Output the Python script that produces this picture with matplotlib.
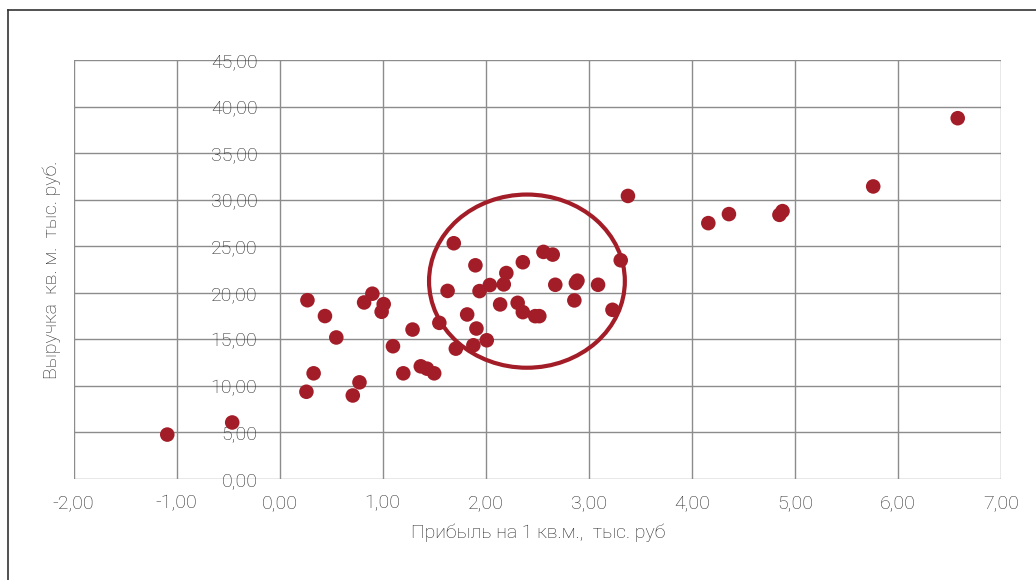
import matplotlib
matplotlib.use("Agg")
import matplotlib.pyplot as plt
from matplotlib.patches import Ellipse
from matplotlib.lines import Line2D
from matplotlib.ticker import FuncFormatter

plt.rcParams["font.family"] = ["Roboto", "DejaVu Sans"]
plt.rcParams["font.weight"] = "light"

# ── Data ──────────────────────────────────────────────────────────────────────
profit = [-1.09, -0.46, 0.27, 0.44, 0.55, 0.33, 0.26, 0.71, 0.775, 0.82,
          0.90, 1.01, 0.99, 1.10, 1.29, 1.20, 1.37, 1.43, 1.50, 1.55,
          1.63, 1.71, 1.82, 1.91, 1.88, 2.01, 1.94, 2.04, 1.69, 1.90,
          2.175, 2.20, 2.36, 2.56, 2.65, 2.14, 2.31, 2.36, 2.48, 2.52,
          2.675, 2.875, 2.89, 2.86, 3.09, 3.31, 3.23, 3.38, 4.16, 4.36,
          4.85, 4.88, 5.76, 6.58]
revenue = [4.77, 6.07, 19.2, 17.5, 15.2, 11.35, 9.37, 8.97, 10.38, 18.96,
           19.9, 18.78, 17.96, 14.26, 16.05, 11.35, 12.1, 11.85, 11.35, 16.77,
           20.2, 14.0, 17.67, 16.16, 14.36, 14.9, 20.18, 20.83, 25.32, 22.95,
           20.9, 22.12, 23.28, 24.39, 24.1, 18.75, 18.92, 17.92, 17.49, 17.49,
           20.86, 21.05, 21.3, 19.18, 20.86, 23.49, 18.17, 30.4, 27.48, 28.45,
           28.37, 28.77, 31.42, 38.75]

# highlighted cluster (centre, width, height in data units)
circle_center = (2.40, 21.25)
circle_w, circle_h = 1.90, 18.6

x_ticks = [-2, -1, 0, 1, 2, 3, 4, 5, 6, 7]
y_ticks = [0, 5, 10, 15, 20, 25, 30, 35, 40, 45]

RED = "#a21d27"
GRID = "#8c8c8c"
TXT = "#2a2a2a"

fig = plt.figure(figsize=(10.36, 5.80), dpi=100)
ax = fig.add_axes([73.5 / 1036, 1 - 479 / 580, 927.5 / 1036, 419 / 580])

ax.scatter(profit, revenue, s=110, color=RED, edgecolors="none", zorder=3)
ax.add_patch(Ellipse(circle_center, circle_w, circle_h, fill=False,
                     edgecolor=RED, linewidth=3.0, zorder=4))

ax.set_xlim(-2, 7)
ax.set_ylim(0, 45)
ax.set_xticks(x_ticks)
ax.set_yticks(y_ticks)
fmt = FuncFormatter(lambda v, p: f"{v:.2f}".replace(".", ","))
ax.xaxis.set_major_formatter(fmt)
ax.yaxis.set_major_formatter(fmt)

ax.grid(True, color=GRID, linewidth=1.0, zorder=0)
ax.set_axisbelow(True)
for side in ("top", "right", "bottom"):
    ax.spines[side].set_visible(False)
ax.spines["left"].set_position(("data", 0))
ax.spines["left"].set_visible(False)

ax.tick_params(axis="both", length=0, labelsize=14, labelcolor=TXT)
ax.tick_params(axis="x", pad=11)
ax.tick_params(axis="y", pad=16)

fig.text(538 / 1036, 1 - 533 / 580, "Прибыль на 1 кв.м.,  тыс. руб",
         ha="center", va="center", fontsize=14, color=TXT)
fig.text(52 / 1036, 1 - 270 / 580, "Выручка  кв. м.  тыс. руб.",
         ha="center", va="center", rotation=90, fontsize=14, color=TXT)

# outer frame (left and top edges)
fig.add_artist(Line2D([8 / 1036, 8 / 1036], [0, 1 - 10 / 580],
                      color="#333333", lw=1.2, transform=fig.transFigure))
fig.add_artist(Line2D([8 / 1036, 1], [1 - 10 / 580, 1 - 10 / 580],
                      color="#333333", lw=1.2, transform=fig.transFigure))

fig.savefig("out.png", dpi=100, facecolor="white")
